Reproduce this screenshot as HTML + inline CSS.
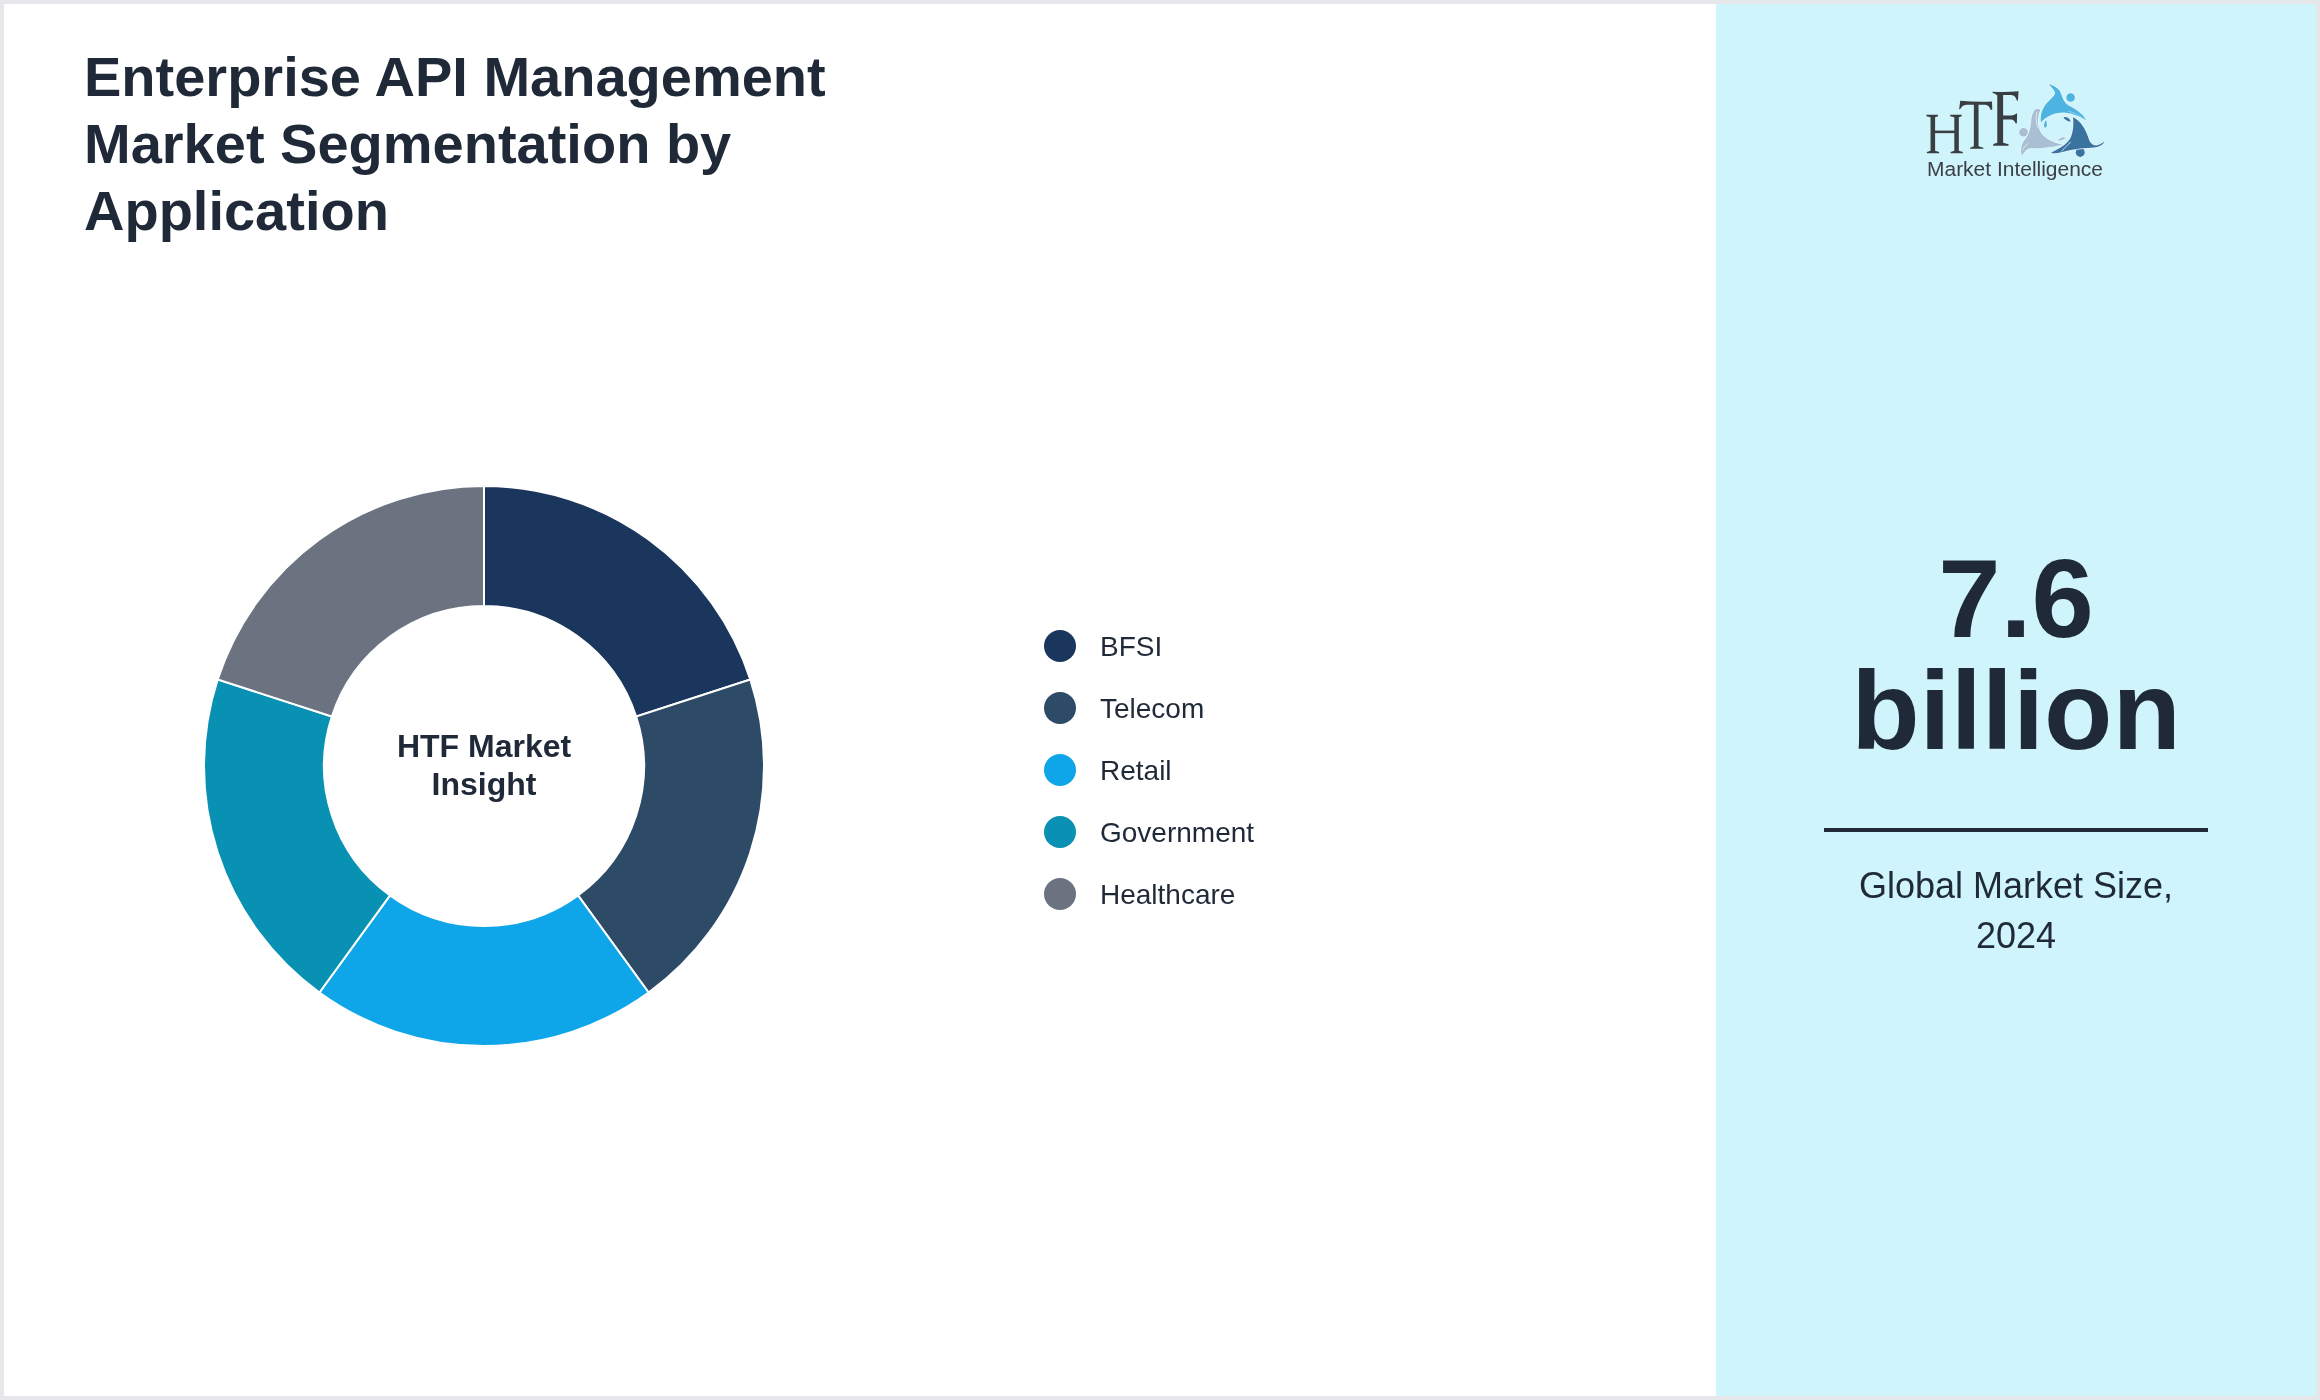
<!DOCTYPE html>
<html>
<head>
<meta charset="utf-8">
<style>
html,body{margin:0;padding:0;}
body{width:2320px;height:1400px;overflow:hidden;background:#e5e7eb;font-family:"Liberation Sans",sans-serif;color:#1f2937;position:relative;}
#main{position:absolute;left:4px;top:4px;width:1712px;height:1392px;background:#ffffff;}
#side{position:absolute;left:1716px;top:4px;width:600px;height:1392px;background:#cff4fc;}
h1{position:absolute;left:80px;top:39px;margin:0;font-size:56px;line-height:67.2px;font-weight:bold;color:#1f2937;white-space:nowrap;}
#chart{position:absolute;left:0;top:0;}
.ctext{will-change:transform;position:absolute;left:376px;width:208px;text-align:center;font-weight:bold;font-size:32px;line-height:38.4px;color:#1f2937;}
.leg{will-change:transform;position:absolute;left:1040px;}
.li{position:absolute;left:0;height:32px;white-space:nowrap;}
.dot{position:absolute;left:0;top:0;width:32px;height:32px;border-radius:50%;}
.lt{position:absolute;left:56px;top:1px;font-size:28px;line-height:32px;color:#1f2937;}
.big{position:absolute;left:0;width:600px;text-align:center;font-weight:bold;font-size:112px;line-height:112px;color:#1f2937;}
.rule{position:absolute;left:108px;width:384px;height:4px;background:#1f2937;}
.sub{will-change:transform;position:absolute;left:0;width:600px;text-align:center;font-size:36px;line-height:50px;color:#1f2937;}
</style>
</head>
<body>
<div id="main">
  <h1 id="title">Enterprise API Management<br>Market Segmentation by<br>Application</h1>
  <svg id="chart" width="1712" height="1392" viewBox="0 0 1712 1392">
<path d="M480.00 482.00A280 280 0 0 1 746.30 675.48L632.17 712.56A160 160 0 0 0 480.00 602.00Z" fill="#1b365d" stroke="#fff" stroke-width="2"/>
<path d="M746.30 675.48A280 280 0 0 1 644.58 988.52L574.05 891.44A160 160 0 0 0 632.17 712.56Z" fill="#2d4a66" stroke="#fff" stroke-width="2"/>
<path d="M644.58 988.52A280 280 0 0 1 315.42 988.52L385.95 891.44A160 160 0 0 0 574.05 891.44Z" fill="#0ea5e9" stroke="#fff" stroke-width="2"/>
<path d="M315.42 988.52A280 280 0 0 1 213.70 675.48L327.83 712.56A160 160 0 0 0 385.95 891.44Z" fill="#0891b2" stroke="#fff" stroke-width="2"/>
<path d="M213.70 675.48A280 280 0 0 1 480.00 482.00L480.00 602.00A160 160 0 0 0 327.83 712.56Z" fill="#6b7280" stroke="#fff" stroke-width="2"/>
</svg>
  <div class="ctext" id="ctext" style="top:722.5px">HTF Market<br>Insight</div>
  <div class="leg" id="leg">
    <div class="li" style="top:626px"><div class="dot" style="background:#1b365d"></div><div class="lt">BFSI</div></div>
    <div class="li" style="top:688px"><div class="dot" style="background:#2d4a66"></div><div class="lt">Telecom</div></div>
    <div class="li" style="top:750px"><div class="dot" style="background:#0ea5e9"></div><div class="lt">Retail</div></div>
    <div class="li" style="top:812px"><div class="dot" style="background:#0891b2"></div><div class="lt">Government</div></div>
    <div class="li" style="top:874px"><div class="dot" style="background:#6b7280"></div><div class="lt">Healthcare</div></div>
  </div>
</div>
<div id="side">
  <svg id="logo" width="200" height="110" viewBox="1915 78 200 110" style="will-change:transform;position:absolute;left:199px;top:74px">
<g transform="translate(1915,80) scale(0.05714)" fill="#393e43">
<path d="M200,608 L402,608 L402,636 L352,650 L352,1238 L422,1262 L422,1282 L208,1282 L208,1262 L272,1238 L272,650 L200,634 Z"/>
<path d="M340,886 L700,886 L700,930 L340,930 Z"/>
<path d="M615,608 L817,608 L817,634 L767,650 L767,1238 L837,1262 L837,1282 L623,1282 L623,1262 L688,1238 L688,650 L615,636 Z"/>
<path d="M792,365 Q1060,388 1348,378 L1352,522 L1322,522 Q1300,440 1230,432 L1112,432 L1112,1160 L1197,1184 L1197,1202 L965,1202 L965,1184 L1030,1160 L1030,432 L900,432 Q822,442 792,508 L772,512 Z"/>
<path d="M1355,205 Q1580,218 1812,198 L1802,358 L1782,358 Q1762,272 1682,264 L1542,264 L1542,620 L1692,620 Q1752,614 1772,588 L1787,588 L1782,762 L1762,762 Q1742,696 1692,690 L1542,690 L1542,1100 L1637,1124 L1637,1150 L1370,1150 L1370,1122 L1440,1100 L1440,272 Q1412,238 1362,226 Z"/>
</g>
<g transform="translate(2010,78) scale(0.06)" stroke="#eaf7fb" stroke-width="22" paint-order="stroke" stroke-linejoin="round">
<g fill="#a8bfd4">
<circle cx="225" cy="905" r="72"/>
<path d="M435,522 C465,512 495,518 505,535 C455,650 445,800 520,920 C600,1020 720,1080 880,1108 C700,1160 500,1170 340,1172 C275,1182 235,1225 200,1300 C168,1200 185,1100 255,1015 C325,935 345,820 355,700 C365,610 395,540 435,522 Z"/>
<path d="M790,1040 C840,990 900,970 930,1000 C880,1040 830,1050 790,1040 Z"/>
<path d="M448,570 C432,650 432,730 462,830" fill="none" stroke-width="12"/>
<path d="M205,1205 C232,1152 262,1115 305,1092" fill="none" stroke-width="12"/>
</g>
<g fill="#4db3e0">
<circle cx="1010" cy="325" r="72"/>
<path d="M645,100 C720,125 805,165 840,235 C875,320 890,400 965,450 C1055,505 1200,565 1268,705 C1180,650 1050,592 900,577 C750,572 600,640 518,742 C495,600 550,470 660,370 C730,305 765,265 745,225 C710,165 670,135 645,100 Z"/>
<path d="M600,700 C620,760 620,820 590,830 C555,820 560,760 600,700 Z"/>
<path d="M965,548 C1080,585 1180,635 1250,692" fill="none" stroke="#93d3ee" stroke-width="14"/>
</g>
<g fill="#3a72a0">
<circle cx="1170" cy="1240" r="75"/>
<path d="M1050,655 C1180,715 1260,860 1300,980 C1330,1080 1370,1125 1440,1125 C1500,1115 1540,1080 1578,1058 C1535,1125 1465,1158 1355,1162 C1200,1165 1000,1195 850,1238 C780,1255 720,1262 685,1245 C800,1180 950,1115 1010,995 C1058,895 1062,760 1050,655 Z"/>
<path d="M890,650 C950,640 1000,670 1010,730 C960,720 910,700 890,650 Z"/>
<path d="M857,1222 C920,1160 960,1120 1010,1065" fill="none" stroke="#eaf7fb" stroke-width="14"/>
</g>
</g>
<text x="1927" y="176.2" font-family="Liberation Sans" font-size="20.5" fill="#3b4045" textLength="176" lengthAdjust="spacingAndGlyphs">Market Intelligence</text>
</svg>
  <div class="big" id="big" style="top:539px">7.6<br>billion</div>
  <div class="rule" id="rule" style="top:824px"></div>
  <div class="sub" id="sub" style="top:857px">Global Market Size,<br>2024</div>
</div>
</body>
</html>
